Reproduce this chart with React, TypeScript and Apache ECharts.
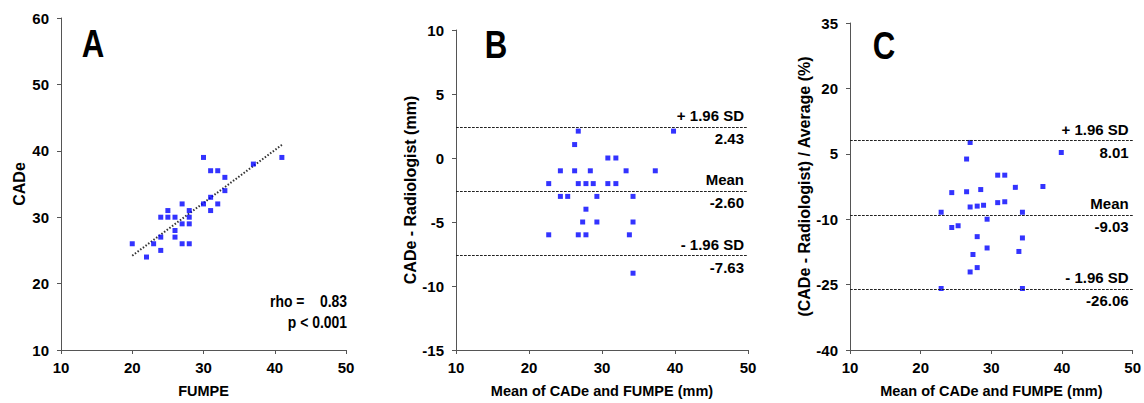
import React, { useEffect, useRef } from 'react';
import * as echarts from 'echarts';

// Panel A: FUMPE vs CADe
const aFumpe = [20, 22, 23, 24, 24, 24, 25, 25, 26, 26, 26, 27, 27, 27, 28, 28, 28, 28, 30, 30, 31, 31, 31, 32, 32, 33, 33, 37, 41];
const aCade = [26, 24, 26, 27, 30, 25, 31, 30, 30, 28, 27, 32, 29, 26, 31, 30, 29, 26, 39, 32, 37, 33, 31, 37, 32, 36, 34, 38, 39];
const trendX = [20, 41];
const trendY = [24.2, 40.9];
const rhoText = 'rho =    0.83';
const pText = 'p < 0.001';

// Panel B: Bland-Altman (mm)
const bMean = [39.8, 26.75, 26.25, 30.8, 31.9, 24.3, 26.25, 28.4, 33.3, 37.3, 22.7, 26.75, 27.8, 28.8, 30.8, 31.9, 24.3, 25.3, 29.3, 34.25, 27.8, 27.35, 29.3, 34.25, 22.7, 26.75, 27.8, 33.75, 34.25];
const bDiff = [2.1, 2.1, 1.05, 0, 0, -1, -1, -1, -1, -1, -2, -2, -2, -2, -2, -2, -3, -3, -3, -3, -4, -5, -5, -5, -6, -6, -6, -6, -9];
const bLimits = [2.43, -2.6, -7.63];

// Panel C: Bland-Altman (%)
const cMean = [27.0, 26.5, 39.9, 30.9, 31.9, 24.4, 26.5, 28.5, 33.4, 37.3, 30.9, 31.9, 27.0, 28.0, 28.9, 22.9, 34.4, 29.4, 24.4, 25.3, 28.0, 34.4, 29.4, 33.9, 27.4, 28.0, 27.0, 22.9, 34.4];
const cPct = [7.6, 3.8, 5.3, 0.1, 0.1, -3.9, -3.7, -3.2, -2.7, -2.5, -6.2, -6.0, -7.2, -7.0, -6.8, -8.4, -8.4, -10.0, -11.9, -11.5, -14.0, -14.3, -16.6, -17.4, -18.1, -21.1, -22.1, -25.9, -25.9];
const cLimits = [8.01, -9.03, -26.06];

const limitNames = ['+ 1.96 SD', 'Mean', '- 1.96 SD'];
const panelLetters = ['A', 'B', 'C'];

const FONT = "'Liberation Sans', Arial, sans-serif";
const AXIS_COLOR = '#555555';
const TXT = 15;

function xAxisOf(gridIndex: number, name: string) {
  return {
    type: 'value',
    gridIndex,
    min: 10,
    max: 50,
    interval: 10,
    name,
    nameLocation: 'middle',
    nameGap: 33,
    nameTextStyle: { color: '#000', fontSize: 14.5, fontWeight: 'bold', fontFamily: FONT },
    axisLine: { show: true, onZero: false, lineStyle: { color: AXIS_COLOR, width: 1 } },
    axisTick: { show: true, length: 4, lineStyle: { color: AXIS_COLOR } },
    axisLabel: { color: '#000', fontSize: TXT, fontWeight: 'bold', fontFamily: FONT, margin: 10 },
    splitLine: { show: false },
  };
}

function yAxisOf(gridIndex: number, name: string, min: number, max: number, interval: number, nameGap: number) {
  return {
    type: 'value',
    gridIndex,
    min,
    max,
    interval,
    name,
    nameLocation: 'middle',
    nameGap,
    nameTextStyle: { color: '#000', fontSize: 16, fontWeight: 'bold', fontFamily: FONT },
    axisLine: { show: true, onZero: false, lineStyle: { color: AXIS_COLOR, width: 1 } },
    axisTick: { show: true, length: 4, lineStyle: { color: AXIS_COLOR } },
    axisLabel: { color: '#000', fontSize: TXT, fontWeight: 'bold', fontFamily: FONT, margin: 12 },
    splitLine: { show: false },
  };
}

function limitLines(limits: number[]) {
  const labelBase = { color: '#000', fontSize: TXT, fontWeight: 'bold', fontFamily: FONT, distance: 4 };
  return {
    symbol: 'none',
    silent: true,
    lineStyle: { type: [2.5, 1.5], color: '#222', width: 1 },
    data: limits.flatMap((v, i) => [
      { yAxis: v, label: { ...labelBase, position: 'insideEndTop', formatter: limitNames[i] } },
      { yAxis: v, label: { ...labelBase, position: 'insideEndBottom', formatter: v.toFixed(2) } },
    ]),
  };
}

const pointStyle = { color: '#0000ff' };

export default function App() {
  const ref = useRef<HTMLDivElement>(null);
  useEffect(() => {
    if (!ref.current) return;
    const chart = echarts.init(ref.current, undefined, { renderer: 'svg' });
    const letterStyle = { fontSize: 39, fontWeight: 'bold', fontFamily: FONT, fill: '#000', textAlign: 'center', textVerticalAlign: 'middle' };
    const textStyle = { fontSize: 16, fontWeight: 'bold', fontFamily: FONT, fill: '#000', textAlign: 'right', textVerticalAlign: 'middle' };
    chart.setOption({
      animation: false,
      grid: [
        { left: 61, top: 18, width: 285, height: 333 },
        { left: 456, top: 30, width: 292, height: 323 },
        { left: 850, top: 23, width: 286, height: 327 },
      ],
      xAxis: [
        xAxisOf(0, 'FUMPE'),
        xAxisOf(1, 'Mean of CADe and FUMPE (mm)'),
        xAxisOf(2, 'Mean of CADe and FUMPE (mm)'),
      ],
      yAxis: [
        yAxisOf(0, 'CADe', 10, 60, 10, 34),
        yAxisOf(1, 'CADe - Radiologist (mm)', -15, 10, 5, 35),
        yAxisOf(2, '(CADe - Radiologist) / Average (%)', -40, 35, 15, 33),
      ],
      series: [
        {
          type: 'line',
          xAxisIndex: 0,
          yAxisIndex: 0,
          data: trendX.map((x, i) => [x, trendY[i]]),
          symbol: 'none',
          silent: true,
          lineStyle: { color: '#333', width: 2, type: [1.5, 1.8] },
          z: 1,
        },
        {
          type: 'scatter',
          xAxisIndex: 0,
          yAxisIndex: 0,
          data: aFumpe.map((x, i) => [x, aCade[i]]),
          symbol: 'rect',
          symbolSize: 5,
          itemStyle: pointStyle,
          z: 3,
        },
        {
          type: 'scatter',
          xAxisIndex: 1,
          yAxisIndex: 1,
          data: bMean.map((x, i) => [x, bDiff[i]]),
          symbol: 'rect',
          symbolSize: 5,
          itemStyle: pointStyle,
          markLine: limitLines(bLimits),
          z: 3,
        },
        {
          type: 'scatter',
          xAxisIndex: 2,
          yAxisIndex: 2,
          data: cMean.map((x, i) => [x, cPct[i]]),
          symbol: 'rect',
          symbolSize: 5,
          itemStyle: pointStyle,
          markLine: limitLines(cLimits),
          z: 3,
        },
      ],
      graphic: [
        { type: 'text', x: 93, y: 43, scaleX: 0.8, style: { ...letterStyle, text: panelLetters[0] } },
        { type: 'text', x: 496, y: 44, scaleX: 0.8, style: { ...letterStyle, text: panelLetters[1] } },
        { type: 'text', x: 884, y: 45, scaleX: 0.8, style: { ...letterStyle, text: panelLetters[2] } },
        { type: 'text', x: 347, y: 301, scaleX: 0.87, style: { ...textStyle, text: rhoText } },
        { type: 'text', x: 347, y: 322, scaleX: 0.87, style: { ...textStyle, text: pText } },
      ],
    });
    return () => chart.dispose();
  }, []);
  return <div ref={ref} style={{ position: 'absolute', left: 0, top: 0, width: 1144, height: 403 }} />;
}
